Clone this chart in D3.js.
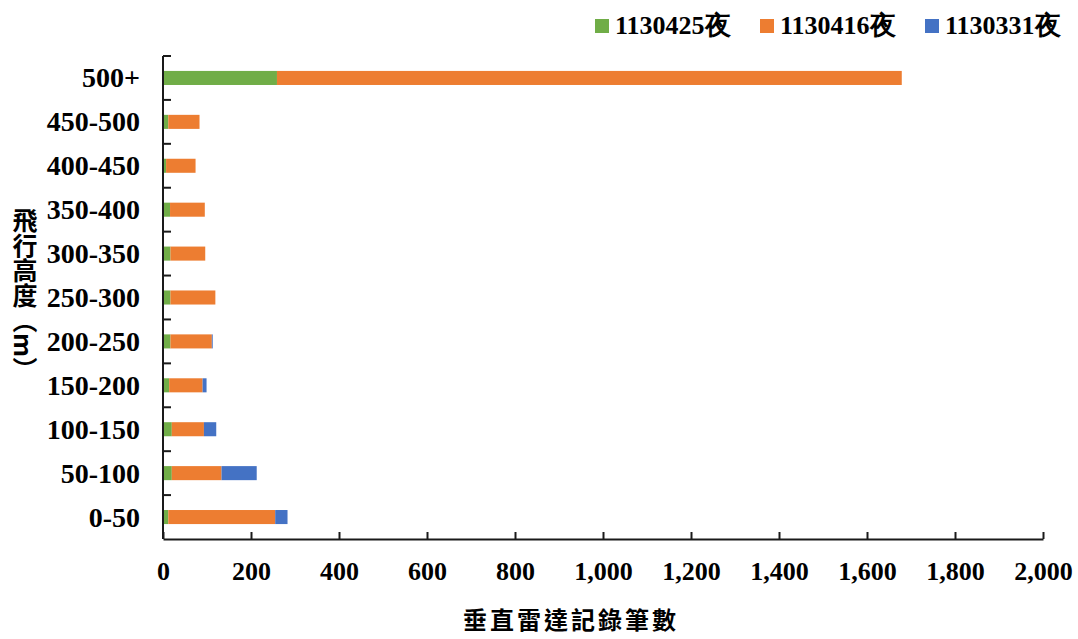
<!DOCTYPE html>
<html><head><meta charset="utf-8">
<script src="https://cdn.jsdelivr.net/npm/d3@7"></script>
<style>body{margin:0;background:#fff}</style>
</head><body>
<svg id="chart" width="1078" height="639"></svg>
<script>
const categories = ["500+","450-500","400-450","350-400","300-350","250-300","200-250","150-200","100-150","50-100","0-50"];
const seriesNames = ["1130425夜","1130416夜","1130331夜"];
const s0425 = [259,12,7,16,17,17,17,14,20,20,12];
const s0416 = [1420,71,67,79,79,102,94,76,73,113,243];
const s0331 = [0,0,0,0,0,0,2,9,28,80,28];
const xTicks = [0,200,400,600,800,1000,1200,1400,1600,1800,2000];
const colors = ["#70AD47","#ED7D31","#4472C4"];

const svg = d3.select("#chart");
const L = 163, R = 1043, T = 56, B = 539;
const x = d3.scaleLinear().domain([0,2000]).range([L,R]);
const y = d3.scaleBand().domain(categories).range([T,B]).paddingInner(0.68).paddingOuter(0.34);
const yb = d3.scaleBand().domain(categories).range([T,B]);

const rows = categories.map((c,i)=>({cat:c, "1130425夜":s0425[i], "1130416夜":s0416[i], "1130331夜":s0331[i]}));
const stack = d3.stack().keys(seriesNames)(rows);

svg.append("g").selectAll("g").data(stack).join("g")
  .attr("fill",(d,i)=>colors[i])
  .selectAll("rect").data(d=>d).join("rect")
  .attr("x",d=>x(d[0])).attr("width",d=>Math.max(0,x(d[1])-x(d[0])))
  .attr("y",d=>y(d.data.cat)).attr("height",y.bandwidth());

const axisColor = "#1a1a1a";
// x axis
const xa = svg.append("g").attr("transform",`translate(0,${B})`)
  .call(d3.axisBottom(x).tickValues(xTicks).tickSizeInner(-7).tickSizeOuter(0).tickFormat(d3.format(",")));
xa.select(".domain").attr("stroke",axisColor).attr("stroke-width",2);
xa.selectAll(".tick line").attr("stroke",axisColor).attr("stroke-width",2);
xa.selectAll(".tick text").attr("dy",0).attr("y",41)
  .style("font-family","'Liberation Serif','Times New Roman',serif").style("font-weight","bold")
  .style("font-size","26px").attr("fill","#000");

// y axis
const ya = svg.append("g").attr("transform",`translate(${L},0)`)
  .call(d3.axisLeft(y).tickSize(0).tickPadding(23));
ya.select(".domain").attr("stroke",axisColor).attr("stroke-width",2).attr("d",`M0,${T}V${B}`);
ya.selectAll(".tick text")
  .style("font-family","'Liberation Serif','Times New Roman',serif").style("font-weight","bold")
  .style("font-size","28px").attr("fill","#000").attr("dy","0.34em");
// band boundary ticks
const bounds = categories.slice(1).map(c=>yb(c)).concat([T]);
svg.append("g").selectAll("line").data(bounds).join("line")
  .attr("x1",L).attr("x2",L+8).attr("y1",d=>d).attr("y2",d=>d)
  .attr("stroke",axisColor).attr("stroke-width",2);

// axis titles
svg.append("text").attr("x",571).attr("y",629).attr("text-anchor","middle")
  .style("font-family","'Noto Sans CJK TC','Noto Sans CJK SC',sans-serif").style("font-weight","bold")
  .style("font-size","24px").style("letter-spacing","3px").text("垂直雷達記錄筆數");
svg.append("text").attr("x",25).attr("y",295).attr("text-anchor","middle")
  .style("writing-mode","vertical-rl").style("text-orientation","mixed")
  .style("font-family","'Noto Sans CJK TC','Noto Sans CJK SC',sans-serif").style("font-weight","bold")
  .style("font-size","25px").text("飛行高度（m）");

// legend
const legX = [595,760,925];
const lg = svg.append("g").selectAll("g").data(seriesNames).join("g")
  .attr("transform",(d,i)=>`translate(${legX[i]},0)`);
lg.append("rect").attr("x",0).attr("y",19).attr("width",14).attr("height",14).attr("fill",(d,i)=>colors[i]);
lg.append("text").attr("x",20).attr("y",34)
  .style("font-family","'Liberation Serif','Times New Roman',serif").style("font-weight","bold")
  .style("font-size","26px").text(d=>d);
</script>
</body></html>
